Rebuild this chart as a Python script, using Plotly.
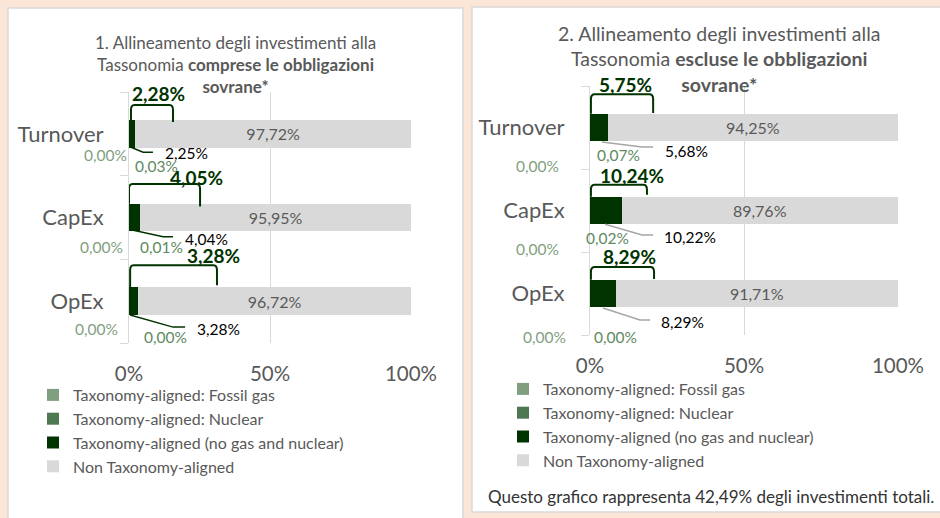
import plotly.graph_objects as go

# data (percent)
categories = ['Turnover', 'CapEx', 'OpEx']

incl_gas = [0.00, 0.00, 0.00]
incl_nuclear = [0.03, 0.01, 0.00]
incl_aligned = [2.25, 4.04, 3.28]
incl_non = [97.72, 95.95, 96.72]

excl_gas = [0.00, 0.00, 0.00]
excl_nuclear = [0.07, 0.02, 0.00]
excl_aligned = [5.68, 10.22, 8.29]
excl_non = [94.25, 89.76, 91.71]

x_ticks = [0, 50, 100]
x_ticktext = ['0%', '50%', '100%']
series_names = ['Taxonomy-aligned: Fossil gas', 'Taxonomy-aligned: Nuclear',
                'Taxonomy-aligned (no gas and nuclear)', 'Non Taxonomy-aligned']

title_1 = '1. Allineamento degli investimenti alla<br>Tassonomia <b>comprese le obbligazioni</b><br><b>sovrane*</b>'
title_2 = '2. Allineamento degli investimenti alla<br>Tassonomia <b>escluse le obbligazioni</b><br><b>sovrane*</b>'
footnote = 'Questo grafico rappresenta 42,49% degli investimenti totali.'

# styles
FONT = 'Lato, Carlito, Calibri, sans-serif'
PEACH = '#FBE5D6'
GREY_TXT = '#595959'
C_GAS = '#7F9F80'
C_NUC = '#4E7852'
C_ALN = '#003300'
C_NON = '#D9D9D9'
colors = [C_GAS, C_NUC, C_ALN, C_NON]

# label placement per panel (x in %, y relative to category index)
layout_incl = dict(
    total=[(10.6, -0.48), (24.1, -0.48), (29.8, -0.54)],
    bracket=[(0.7, -0.345, 15.6, -0.14), (0.0, -0.40, 25.2, -0.13), (0.4, -0.43, 31.2, -0.19)],
    leader=[(0.7, 0.16, 5.0, 0.22, 8.5), (1.1, 0.15, 12.1, 0.23, 15.6), (0.4, 0.165, 15.6, 0.31, 19.9)],
    aligned=[(12.1, 0.23), (19.1, 0.26), (23.4, 0.33)],
    nuclear=[(9.9, 0.38), (11.7, 0.35), (12.8, 0.43)],
    gas=[(-8.2, 0.25), (-9.9, 0.35), (-11.7, 0.33)],
    leader_color=C_ALN,
)
layout_excl = dict(
    total=[(11.4, -0.52), (13.6, -0.42), (12.7, -0.44)],
    bracket=[(0.3, -0.40, 20.5, -0.175), (0.3, -0.31, 18.5, -0.19), (0.3, -0.32, 20.8, -0.175)],
    leader=[(3.9, 0.175, 16.9, 0.235, 20.5), (4.9, 0.165, 16.9, 0.295, 20.5), (4.2, 0.175, 16.2, 0.32, 19.5)],
    aligned=[(23.7, 0.28), (23.4, 0.32), (22.4, 0.34)],
    nuclear=[(9.4, 0.33), (5.7, 0.33), (8.4, 0.52)],
    gas=[(-16.9, 0.46), (-16.9, 0.46), (-14.9, 0.52)],
    leader_color='#A6A6A6',
)

W, H = 940, 518
Y_RANGE = [2.5, -0.5]


def px_x(p):
    return p / W


def px_y(p):
    return (H - p) / H


def fmt(v):
    return f'{v:.2f}'.replace('.', ',') + '%'


def dom(xa, ya, x, y):
    # domain refs so labels outside the axis range are still drawn
    return dict(xref=xa + ' domain', yref=ya + ' domain', x=x / 100,
                y=(Y_RANGE[0] - y) / (Y_RANGE[0] - Y_RANGE[1]))


fig = go.Figure()

panels = [
    (incl_gas, incl_nuclear, incl_aligned, incl_non, 'x', 'y', 'legend', layout_incl),
    (excl_gas, excl_nuclear, excl_aligned, excl_non, 'x2', 'y2', 'legend2', layout_excl),
]
ypos = list(range(len(categories)))

for gas, nuc, aln, non, xa, ya, lg, lab in panels:
    for name, vals, col in zip(series_names, [gas, nuc, aln, non], colors):
        is_non = vals is non
        fig.add_trace(go.Bar(
            y=ypos, x=vals, orientation='h', name=name, marker=dict(color=col, line=dict(width=0)),
            width=0.33, xaxis=xa, yaxis=ya, legend=lg,
            text=[fmt(v) for v in vals] if is_non else None,
            textposition='inside' if is_non else 'none', insidetextanchor='middle',
            textfont=dict(family=FONT, size=16, color=GREY_TXT), hoverinfo='x+name'))

    for i in ypos:
        total = gas[i] + nuc[i] + aln[i]
        tx, ty = lab['total'][i]
        fig.add_annotation(**dom(xa, ya, tx, i + ty), text=f'<b>{fmt(total)}</b>', showarrow=False,
                           xanchor='center', yanchor='middle', font=dict(family=FONT, size=19, color=C_ALN))
        x0, yt, x1, ye = lab['bracket'][i]
        r = 0.06
        path = (f'M {x0},{i - 0.165} L {x0},{i + yt + r} Q {x0},{i + yt} {x0 + 1.2},{i + yt} '
                f'L {x1 - 1.2},{i + yt} Q {x1},{i + yt} {x1},{i + yt + r} L {x1},{i + ye}')
        fig.add_shape(type='path', path=path, xref=xa, yref=ya, line=dict(color=C_ALN, width=2))
        lx0, ly0, lx1, ly1, lx2 = lab['leader'][i]
        fig.add_shape(type='path', path=f'M {lx0},{i + ly0} L {lx1},{i + ly1} L {lx2},{i + ly1}',
                      xref=xa, yref=ya, line=dict(color=lab['leader_color'], width=1.5))
        ax_, ay_ = lab['aligned'][i]
        fig.add_annotation(**dom(xa, ya, ax_, i + ay_), text=fmt(aln[i]), showarrow=False,
                           xanchor='left', yanchor='middle', font=dict(family=FONT, size=15.5, color='#000000'))
        nx, ny = lab['nuclear'][i]
        fig.add_annotation(**dom(xa, ya, nx, i + ny), text=fmt(nuc[i]), showarrow=False,
                           xanchor='center', yanchor='middle', font=dict(family=FONT, size=15.5, color='#5E8A60'))
        gx, gy = lab['gas'][i]
        fig.add_annotation(**dom(xa, ya, gx, i + gy), text=fmt(gas[i]), showarrow=False,
                           xanchor='center', yanchor='middle', font=dict(family=FONT, size=15.5, color=C_GAS))

# panel backgrounds
fig.add_shape(type='rect', xref='paper', yref='paper', x0=px_x(8), x1=px_x(463), y0=px_y(530), y1=px_y(8),
              fillcolor='white', line=dict(color='#D9D9D9', width=1.5), layer='below')
fig.add_shape(type='rect', xref='paper', yref='paper', x0=px_x(472), x1=px_x(950), y0=px_y(512), y1=px_y(7),
              fillcolor='white', line=dict(color='#D9D9D9', width=1.5), layer='below')

axis_x = dict(range=[0, 100], tickvals=x_ticks, ticktext=x_ticktext, showgrid=True, gridcolor='#D9D9D9',
              gridwidth=1, zeroline=False, showline=False, ticks='', ticklabelstandoff=16, automargin=False,
              tickfont=dict(family=FONT, size=20.5, color=GREY_TXT), fixedrange=True)
axis_y = dict(range=Y_RANGE, tickvals=ypos, ticktext=categories, showgrid=False, zeroline=False,
              showline=True, linecolor='#D9D9D9', linewidth=1, ticks='', ticklabelstandoff=20, automargin=False,
              minor=dict(tickvals=[-0.5, 0.5, 1.5, 2.5], ticks='outside', ticklen=8, tickcolor='#D9D9D9'),
              tickfont=dict(family=FONT, size=22, color=GREY_TXT), fixedrange=True)

legend_style = dict(xanchor='left', yanchor='top', bgcolor='rgba(0,0,0,0)', traceorder='normal',
                    font=dict(family=FONT, size=16, color=GREY_TXT), tracegroupgap=0)

fig.update_layout(
    width=W, height=H, margin=dict(l=0, r=0, t=0, b=0, autoexpand=False), barmode='stack',
    paper_bgcolor=PEACH, plot_bgcolor='rgba(0,0,0,0)',
    font=dict(family=FONT, color=GREY_TXT),
    xaxis=dict(domain=[px_x(129), px_x(411)], anchor='y', **axis_x),
    yaxis=dict(domain=[px_y(343), px_y(92)], anchor='x', **axis_y),
    xaxis2=dict(domain=[px_x(590), px_x(898)], anchor='y2', **axis_x),
    yaxis2=dict(domain=[px_y(335), px_y(86)], anchor='x2', **axis_y),
    legend=dict(x=px_x(33), y=px_y(378), **legend_style),
    legend2=dict(x=px_x(503), y=px_y(372), **legend_style),
)

fig.add_annotation(x=px_x(236), y=px_y(65), xref='paper', yref='paper', text=title_1, showarrow=False,
                   xanchor='center', yanchor='middle', font=dict(family=FONT, size=17, color=GREY_TXT))
fig.add_annotation(x=px_x(719), y=px_y(59), xref='paper', yref='paper', text=title_2, showarrow=False,
                   xanchor='center', yanchor='middle', font=dict(family=FONT, size=19.5, color=GREY_TXT))
fig.add_annotation(x=px_x(711), y=px_y(496), xref='paper', yref='paper', text=footnote, showarrow=False,
                   xanchor='center', yanchor='middle', font=dict(family=FONT, size=17, color='#333333'))

# the page body has a default 8px margin; drop it so the figure fills the window
fig.write_html('out.html', config={'displayModeBar': False},
               post_script="document.body.style.margin='0px';")
